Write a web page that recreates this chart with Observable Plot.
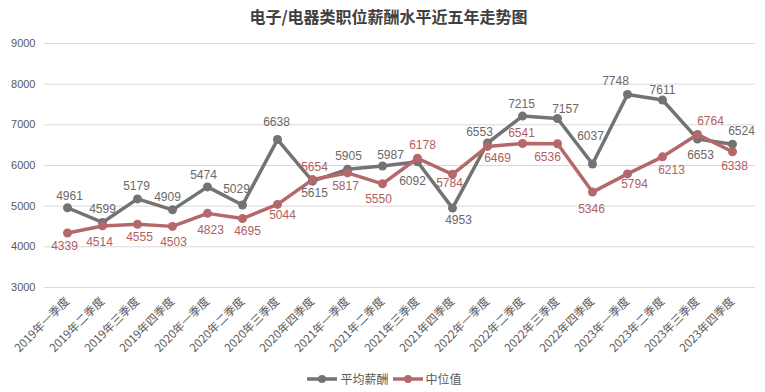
<!DOCTYPE html>
<html><head><meta charset="utf-8">
<script src="https://cdn.jsdelivr.net/npm/d3@7"></script>
<script src="https://cdn.jsdelivr.net/npm/@observablehq/plot@0.6"></script>
<style>
html,body{margin:0;padding:0;background:#fff}
body{width:765px;height:392px;overflow:hidden;font-family:"Liberation Sans","Noto Sans CJK SC",sans-serif}
#title{height:30px;line-height:33px;text-align:center;font-size:16px;font-weight:bold;color:#404040;font-family:"Noto Sans CJK SC",sans-serif;padding-left:12px}
#chart svg{display:block}
#legend{height:27px;display:flex;justify-content:center;align-items:center;font-size:12px;color:#595959;font-family:"Noto Sans CJK SC",sans-serif;padding-left:4px}
.item{display:flex;align-items:center;margin:0 2px}
.item svg{margin-right:3px}
</style></head><body>
<div id="title">电子/电器类职位薪酬水平近五年走势图</div>
<div id="chart"></div>
<div id="legend"></div>
<script>
const categories = [
  "2019年一季度","2019年二季度","2019年三季度","2019年四季度",
  "2020年一季度","2020年二季度","2020年三季度","2020年四季度",
  "2021年一季度","2021年二季度","2021年三季度","2021年四季度",
  "2022年一季度","2022年二季度","2022年三季度","2022年四季度",
  "2023年一季度","2023年二季度","2023年三季度","2023年四季度"
];
const seriesNames = ["平均薪酬", "中位值"];
const avgSalary = [4961,4599,5179,4909,5474,5029,6638,5615,5905,5987,6092,4953,6553,7215,7157,6037,7748,7611,6653,6524];
const medianSalary = [4339,4514,4555,4503,4823,4695,5044,5654,5817,5550,6178,5784,6469,6541,6536,5346,5794,6213,6764,6338];
const yTicks = [3000,4000,5000,6000,7000,8000,9000];

// layout: nudges [dx, dy] (px) of each data label from its point, as placed in the original
const avgLabelNudge = [[2,-12],[0,-13],[-1,-13],[-5,-13],[-4,-12],[-6,-16],[-1,-17],[2,12],[1,-13],[8,-11],
  [-5,19],[6,12],[-8,-11],[-1,-12],[8,-9],[-2,-28],[-12,-13],[0,-10],[3,16],[9,-13]];
const medLabelNudge = [[-3,13],[-3,16],[2,13],[1,16],[3,17],[5,13],[5,11],[2,-12],[-2,13],[-4,15],
  [5,-13],[-3,9],[10,12],[-1,-10],[-10,13],[-1,17],[7,10],[9,13],[13,-13],[2,14]];

const colors = {"平均薪酬": "#737373", "中位值": "#b5686b"};
const labelColors = {"平均薪酬": "#696969", "中位值": "#b0605f"};

const rows = [];
categories.forEach((c, i) => {
  rows.push({cat: c, series: seriesNames[0], value: avgSalary[i], nudge: avgLabelNudge[i]});
  rows.push({cat: c, series: seriesNames[1], value: medianSalary[i], nudge: medLabelNudge[i]});
});
const avgRows = rows.filter(d => d.series === seriesNames[0]);
const medRows = rows.filter(d => d.series === seriesNames[1]);

const textMarks = rows.map(d => Plot.text([d], {
  x: "cat", y: "value", text: d => String(d.value),
  dx: d.nudge[0], dy: d.nudge[1], fill: labelColors[d.series], fontSize: 12
}));

const chart = Plot.plot({
  width: 765, height: 335,
  marginTop: 13, marginBottom: 78, marginLeft: 44, marginRight: 10,
  style: {fontFamily: "'Liberation Sans','Noto Sans CJK SC',sans-serif", background: "#fff"},
  x: {type: "point", domain: categories, padding: 0.5},
  y: {domain: [3000, 9000]},
  marks: [
    Plot.gridY(yTicks, {stroke: "#d9d9d9", strokeOpacity: 1, strokeWidth: 1}),
    Plot.axisY(yTicks, {tickSize: 0, tickPadding: 9, fontSize: 11, color: "#595959", label: null, tickFormat: d3.format("d")}),
    Plot.axisX({tickRotate: -45, tickSize: 0, tickPadding: 12, fontSize: 11.5, color: "#595959", label: null,
      fontFamily: "'Noto Sans CJK SC',sans-serif"}),
    Plot.line(avgRows, {x: "cat", y: "value", stroke: colors[seriesNames[0]], strokeWidth: 3.5}),
    Plot.dot(avgRows, {x: "cat", y: "value", fill: colors[seriesNames[0]], r: 4.5}),
    Plot.line(medRows, {x: "cat", y: "value", stroke: colors[seriesNames[1]], strokeWidth: 3.5}),
    Plot.dot(medRows, {x: "cat", y: "value", fill: colors[seriesNames[1]], r: 4.5}),
    ...textMarks
  ]
});
document.getElementById("chart").appendChild(chart);

const legend = document.getElementById("legend");
for (const s of seriesNames) {
  const el = document.createElement("div");
  el.className = "item";
  el.innerHTML = `<svg width="30" height="10"><line x1="0" y1="5" x2="30" y2="5" stroke="${colors[s]}" stroke-width="3.5"/><circle cx="15" cy="5" r="4" fill="${colors[s]}"/></svg><span>${s}</span>`;
  legend.appendChild(el);
}
</script>
</body></html>
